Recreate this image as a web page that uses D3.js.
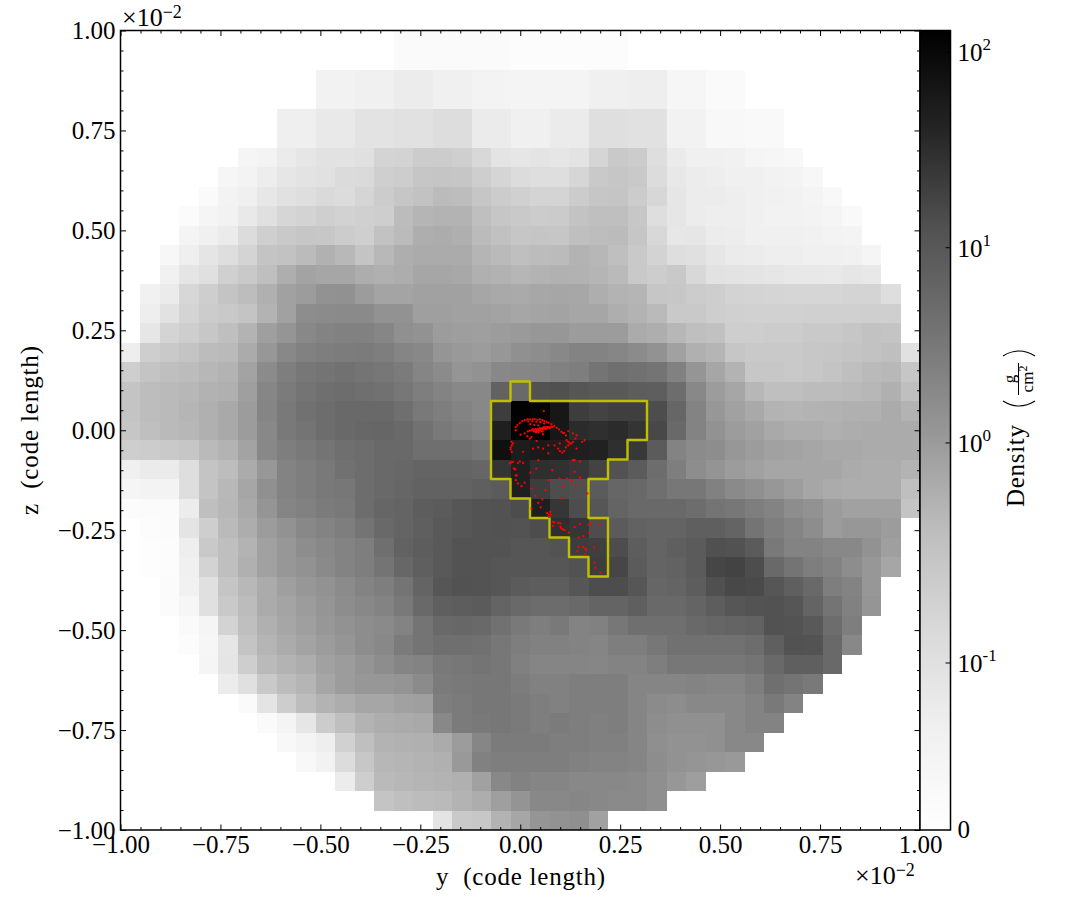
<!DOCTYPE html>
<html>
<head>
<meta charset="utf-8">
<script src="https://cdnjs.cloudflare.com/ajax/libs/d3/7.8.5/d3.min.js"></script>
<style>
body { margin: 0; background: #fff; }
text { font-family: "Liberation Serif", serif; fill: #000; }
.tick text { font-family: "Liberation Serif", serif; font-size: 25px; }
</style>
</head>
<body>
<svg id="chart" width="1085" height="920"></svg>
<script>
// density per cell, row 0 is the top row, each row begins at column rowStart[row]
const rowStart = [14,14,10,10,8,8,6,5,4,3,3,2,2,1,1,1,0,0,0,0,0,0,0,0,0,1,1,1,2,2,3,3,4,5,6,7,8,9,11,13,16];
const row00 = [.02,.02,.02,.02,.02,.02,.012,.012,.012,.012,.012,.012];
const row01 = [.02,.02,.02,.02,.02,.02,.012,.012,.012,.012,.012,.012];
const row02 = [.052,.052,.06,.06,.07,.07,.06,.06,.048,.048,.045,.045,.045,.045,.06,.06,.065,.065,.035,.035,.02,.02];
const row03 = [.052,.052,.06,.06,.07,.07,.06,.06,.048,.048,.045,.045,.045,.045,.06,.06,.065,.065,.035,.035,.02,.02];
const row04 = [.063,.063,.078,.078,.094,.094,.099,.099,.11,.11,.073,.073,.06,.06,.073,.073,.104,.104,.099,.099,.052,.052,.028,.028,.022,.022];
const row05 = [.063,.063,.078,.078,.094,.094,.099,.099,.11,.11,.073,.073,.06,.06,.073,.073,.104,.104,.099,.099,.052,.052,.028,.028,.022,.022];
const row06 = [.04,.048,.073,.086,.096,.096,.102,.133,.143,.193,.193,.17,.121,.091,.086,.091,.086,.094,.13,.218,.193,.107,.073,.06,.06,.056,.04,.035,.028];
const row07 = [.035,.048,.068,.086,.094,.099,.114,.117,.17,.185,.248,.258,.248,.177,.13,.112,.107,.107,.127,.218,.248,.218,.112,.08,.07,.065,.06,.06,.052,.048,.03];
const row08 = [.02,.048,.06,.083,.099,.107,.117,.112,.13,.193,.248,.295,.38,.355,.248,.193,.163,.138,.138,.193,.248,.258,.193,.124,.086,.07,.07,.065,.06,.056,.052,.045,.028];
const row09 = [.015,.04,.052,.078,.102,.127,.143,.17,.15,.163,.177,.365,.455,.485,.485,.333,.248,.218,.193,.2,.28,.333,.333,.238,.107,.086,.07,.065,.065,.06,.052,.052,.048,.04,.022];
const row10 = [.045,.06,.073,.112,.17,.218,.248,.238,.193,.17,.295,.38,.565,.6,.545,.38,.305,.248,.258,.248,.333,.355,.38,.248,.121,.083,.086,.07,.068,.06,.06,.06,.056,.048,.045];
const row11 = [.03,.063,.089,.107,.138,.27,.295,.38,.51,.415,.27,.415,.565,.62,.62,.62,.455,.39,.333,.365,.38,.485,.43,.333,.218,.143,.107,.102,.086,.073,.07,.065,.065,.06,.06,.056,.04];
const row12 = [.056,.089,.102,.163,.218,.333,.565,.78,.716,.716,.585,.527,.585,.716,.716,.68,.527,.5,.44,.485,.51,.5,.455,.39,.218,.185,.218,.121,.096,.094,.091,.086,.08,.08,.078,.086,.08];
const row13 = [.056,.073,.124,.177,.27,.355,.527,.83,.97,1.33,1.38,.97,.76,.76,.83,.83,.83,.716,.66,.64,.7,.716,.7,.565,.485,.455,.248,.238,.193,.177,.143,.133,.13,.127,.127,.127,.133,.133,.107];
const row14 = [.065,.096,.133,.193,.218,.27,.485,.83,1.58,1.7,1.76,1.76,1.33,1.33,.885,.885,.83,.83,.78,.716,.76,.78,.716,.716,.565,.485,.39,.218,.218,.177,.163,.157,.157,.157,.163,.163,.163,.17,.17];
const row15 = [.086,.133,.177,.238,.333,.485,.885,1.2,1.88,2.2,2.35,2.35,2,1.43,1.33,.97,.91,.885,.97,1.03,1.13,1.13,.97,.97,.97,.62,.565,.43,.333,.305,.177,.177,.193,.193,.218,.218,.248,.295,.27];
const row16 = [.065,.177,.218,.27,.365,.39,.62,1.13,1.88,2.35,2.6,2.8,2.9,2.6,2.07,1.88,1.2,1.06,.97,1.13,1.43,1.58,1.88,2.2,2.2,2,1.7,1.33,.83,.527,.455,.248,.218,.218,.218,.238,.248,.27,.295,.333,.099];
const row17 = [.177,.27,.333,.365,.43,.485,.78,1.7,2.6,3.35,3.7,4.1,3.7,3.35,2.9,2.07,1.7,1.2,1.33,1.88,2,2.07,2.35,2.6,3.7,4.4,4.1,3.7,2.35,1.2,.716,.485,.238,.238,.218,.238,.27,.333,.39,.415,.248];
const row18 = [.27,.355,.39,.43,.5,.527,.885,2,2.9,3.7,4.4,4.75,4.4,4.1,3.35,2.6,2.2,1.88,1.88,6.85,5.3,12.4,13,10.8,9.7,9.7,8.4,8.1,4.75,1.88,.97,.716,.43,.333,.333,.365,.365,.39,.43,.527,.333];
const row19 = [.27,.355,.39,.455,.527,.66,.97,2.07,3.1,4.1,4.75,5.3,5.3,5.3,4.4,3.1,2.6,2.2,1.88,21,120,110,62,21,18.3,20,20,14,5.95,2.2,1.13,.83,.66,.485,.455,.485,.5,.527,.527,.62,.485];
const row20 = [.248,.333,.39,.43,.527,.66,.97,1.88,3.1,3.7,4.75,5.3,5.7,5.95,5.3,4.1,3.1,2.6,2.2,48,120,120,62,34,31,34,27,16,5.3,2.2,1.33,.97,.83,.66,.585,.585,.527,.585,.62,.62,.62];
const row21 = [.177,.193,.218,.248,.39,.485,.78,1.88,2.6,3.1,3.7,4.4,4.75,5.3,5.3,4.4,4.4,4.4,3.7,78,51,57,51,48,45,31,24,9,2.2,1.7,1.58,1.13,.97,.83,.78,.716,.66,.66,.62,.62,.62];
const row22 = [.06,.073,.073,.107,.27,.355,.62,1.13,2.2,2.6,3.1,4.1,4.75,5.3,5.7,6.4,6.4,6.4,5.95,27,48,31,29,25.6,18.3,12.4,9,4.75,2.6,1.58,1.24,.97,.83,.716,.716,.716,.716,.62,.585,.585,.485];
const row23 = [.04,.048,.048,.107,.27,.415,.716,1.43,2.2,2.6,3.1,3.35,4.75,5.3,5.95,6.85,6.85,6.85,7.6,9,48,21,14,13,9,5.95,5.3,4.4,3.35,3.35,2.35,1.76,1.43,1.13,.91,.716,.62,.585,.585,.585,.333];
const row24 = [.012,.015,.015,.07,.333,.43,.66,1.2,2.07,2.35,2.9,3.1,4.75,5.95,6.4,8.4,9,10.8,11.8,12.4,14,48,25.6,14,10.8,6.4,5.3,5.3,5.3,4.75,3.7,3.35,2.6,2.2,1.58,1.33,.97,.83,.83,.83,.27];
const row25 = [.012,.015,.091,.177,.39,.585,.97,1.33,1.88,2.2,2.6,3.7,5.3,6.4,7.6,9.7,10.8,11.8,12.4,11.8,14,31,25.6,14,9,6.85,6.4,6.4,7.6,7.6,6.4,3.7,2.6,2.07,1.58,.97,1.13,1.13,.97];
const row26 = [.008,.012,.065,.218,.333,.485,.83,1.13,1.58,1.88,2.2,2.6,4.4,6.85,8.4,9.7,11.8,11.8,11.8,10.8,10.8,11.8,21,20,14,8.4,6.4,7.6,9,13,12.4,9,3.1,2.2,2.2,1.88,1.88,1.33,.885];
const row27 = [.008,.012,.06,.143,.333,.527,.83,1.13,1.33,1.76,2.2,2.6,3.7,5.7,7.6,9.7,11.8,11.8,10.8,10.8,10.8,10.8,12.4,21,17,9,6.4,6.85,9,17,18.3,14,5.3,3.7,2.6,2.2,1.58,1.13,.716];
const row28 = [.015,.056,.102,.258,.415,.62,.885,1.13,1.33,1.7,2.2,2.6,3.7,6.4,10.8,12.4,11.8,10.8,9,8.4,8.4,10.8,14,14,10.8,5.95,6.4,8.4,13,16,15.2,10.8,7.6,5.3,2.6,2.2,1.13];
const row29 = [.015,.035,.102,.218,.365,.62,.76,.97,1.2,1.58,1.88,2.2,3.1,5.3,7.6,8.4,9,6.4,5.3,4.9,4.9,5.3,6.4,6.4,7.6,5.3,5.3,6.4,8.4,10.8,11.8,12.4,10.8,6.4,3.7,2.35,1.2];
const row30 = [.02,.04,.143,.333,.527,.716,.885,1.13,1.33,1.58,1.76,2.2,3.7,5.3,5.7,5.3,4.1,3.1,2.6,3.1,2.2,2.35,3.35,4.4,4.4,4.4,5.3,5.95,6.4,6.85,12.4,11.8,9.7,4.75,2.6];
const row31 = [.012,.035,.086,.27,.455,.62,.78,.97,1.2,1.58,1.88,2.9,3.7,4.4,4.4,4.1,3.35,2.6,2.35,2.35,2.2,2.07,2.6,2.6,3.35,4.1,4.1,4.1,4.1,4.75,7.6,12.4,11.8,5.3,1.88];
const row32 = [.04,.089,.177,.39,.485,.585,.83,.97,1.24,1.58,2.07,2.2,3.1,3.35,3.7,3.35,2.43,2.07,2.07,2.07,2,2.2,2.2,2.6,3.35,3.35,3.35,3.35,3.7,5.3,7.6,7.6,5.3];
const row33 = [.07,.102,.218,.365,.455,.716,.97,1.13,1.13,1.24,1.7,2.9,3.1,3.35,3.35,2.8,2.35,2.35,2.6,2.6,2.6,2.07,2.07,2.07,2.2,2.07,2.07,2.6,4.4,3.7,3.1];
const row34 = [.02,.091,.185,.355,.485,.585,.716,.716,.83,.885,2.6,2.9,3.35,3.35,3,2.6,2.35,2.6,2.6,2.6,2.07,1.7,1.58,1.88,1.88,1.88,2.2,3.1,2.2];
const row35 = [.02,.045,.086,.193,.333,.485,.585,.62,.66,1.88,2.9,3.1,3.35,3,2.6,2.9,2.6,2.43,2.6,2.07,1.58,1.43,1.43,1.43,1.88,2.2,2.2];
const row36 = [.028,.045,.065,.157,.333,.485,.51,.527,.62,.97,2,2.9,2.9,2.9,2.6,2.6,2.43,2.43,2.07,1.48,1.33,1.33,1.43,1.88,1.88];
const row37 = [.028,.052,.112,.238,.43,.455,.485,.527,1.06,2.35,2.6,2.6,2.6,2.6,2.35,2.2,2.2,2.07,1.58,1.33,1.2,1.13,1.06];
const row38 = [.07,.177,.39,.43,.455,.485,.527,.83,1.88,2.3,2.07,2.07,1.88,1.88,1.88,1.76,1.48,1.13,.91];
const row39 = [.27,.333,.365,.39,.485,.585,.885,1.24,1.88,1.88,2,1.88,1.76,1.76,1.48];
const row40 = [.091,.218,.238,.485,.716,1.2,1.33,1.48,.83];
const rows = [row00,row01,row02,row03,row04,row05,row06,row07,row08,row09,row10,row11,row12,row13,row14,row15,row16,row17,row18,row19,row20,row21,row22,row23,row24,row25,row26,row27,row28,row29,row30,row31,row32,row33,row34,row35,row36,row37,row38,row39,row40];

// yellow outline, walks along cell edges
const contourCols = [20,21,21,27,27,26,26,25,25,24,24,25,25,24,24,23,23,22,22,21,21,20,20,19,19,20,20];
const contourRows = [18,18,19,19,21,21,22,22,23,23,25,25,28,28,27,27,26,26,25,25,24,24,23,23,19,19,18];

// particles, in units of 1e-2
const particleY = [-.011,-.007,-.001,.005,.011,.018,.024,.031,.036,.043,.049,.055,.06,.066,.071,.078,.085,.091,.097,.103,.11,
  .019,.024,.029,.031,.034,.036,.039,.041,.041,.044,.046,.049,.049,.051,.054,.054,.056,.059,.059,.061,.064,.064,.066,.069,.071,.074,.076,.079,.081,.039,.046,.056,
  .02,.03,.04,.05,.06,.045,.035,.025,
  .095,.099,.105,.11,.114,.12,.124,.128,.132,.138,.141,.132,.12,.114,.116,.12,
  -.022,-.021,-.024,-.021,-.024,-.018,.007,.032,.045,.057,.07,.07,.086,.099,.141,.161,.155,.136,.132,.024,.041,.011,.001,-.011,.059,.057,.028,.018,.107,
  -.021,-.016,-.026,-.006,.045,
  -.024,-.018,-.015,-.012,-.011,-.009,-.011,-.006,.003,.011,.007,-.001,.04,.025,.028,.038,.063,.055,.045,.028,.051,.067,.071,.075,.076,.072,.082,.086,.082,.095,.1,.101,.103,.107,.111,.121,.136,.15,.171,.176,.197,.172,.158,.146,.146,.157,.163,.165,.143,.161,.185,.185,.188,.201,.08,.071,.099,.117,.136,.149,.151,.128,.105,.139,.132,.149,.168,.103];
const particleZ = [.008,.013,.018,.023,.025,.027,.027,.027,.028,.026,.027,.025,.023,.021,.019,.015,.011,.006,.002,-.004,-.007,
  -.003,-.001,0,.003,-.003,0,.003,0,-.003,.003,0,.005,0,.003,.005,-.003,.003,.008,.003,.005,.008,.003,.005,.008,.008,.005,.008,.008,.008,-.005,-.005,-.003,
  .022,.022,.021,.02,.017,.012,.013,.015,
  -.046,-.052,-.056,-.052,-.043,-.038,-.033,-.033,-.029,-.021,-.013,-.008,-.002,-.013,-.025,-.029,
  -.029,-.038,-.043,-.054,-.048,-.033,-.054,-.046,-.043,-.046,-.038,-.058,-.038,-.033,-.046,-.025,-.029,-.075,-.075,-.021,-.027,-.008,-.011,0,.048,-.01,-.017,-.015,-.007,
  -.079,-.096,-.083,-.082,-.075,
  -.082,-.079,-.096,-.098,-.113,-.113,-.125,-.133,-.14,-.131,-.082,-.078,-.096,-.106,-.146,-.164,-.15,-.173,-.182,-.196,-.193,-.207,-.211,-.204,-.211,-.217,-.229,-.231,-.239,-.232,-.233,-.242,-.246,-.248,-.25,-.256,-.242,-.235,-.236,-.233,-.236,-.256,-.265,-.268,-.292,-.292,-.296,-.3,-.303,-.31,-.293,-.331,-.344,-.356,-.1,-.125,-.121,-.121,-.104,-.118,-.123,-.127,-.139,-.138,-.075,-.078,-.158,-.171];

const majorTicks = [-1,-.75,-.5,-.25,0,.25,.5,.75,1];
const minorTicks = d3.range(-20,21).filter(d => d % 5 != 0).map(d => d / 20);
const greySteps = ["#ffffff","#f0f0f0","#d9d9d9","#bdbdbd","#969696","#737373","#525252","#252525","#000000"];
const densityTicks = [0,.1,1,10,100];
const densityPowers = {0.1:"-1",1:"0",10:"1",100:"2"};
const linThresh = .127, densityMax = 129.6;
const nCells = 41;

const left = 120.5, right = 920, top_ = 30.5, bottom = 830;
const cbarRight = 950.5;

const svg = d3.select("#chart");

const xScale = d3.scaleLinear().domain([-1,1]).range([left,right]);
const yScale = d3.scaleLinear().domain([-1,1]).range([bottom,top_]);
const colEdge = d3.scaleLinear().domain([0,nCells]).range([-1,1]);
const rowEdge = d3.scaleLinear().domain([0,nCells]).range([1,-1]);

// colorbar position: linear below the threshold, log above it
const linPart = d3.scaleLinear().domain([0,linThresh]).range([bottom,617.9]);
const logPart = d3.scaleLog().domain([linThresh,densityMax]).range([617.9,top_]);
function densityPos(v) { return v < linThresh ? linPart(v) : logPart(v); }
const posToColor = d3.scaleLinear().domain(greySteps.map((c,i) => i / 8)).range(greySteps);
function densityColor(v) { return posToColor((bottom - densityPos(v)) / (bottom - top_)); }

const cells = rows.flatMap((r,i) => r.map((v,j) => ({row:i, col:rowStart[i] + j, value:v})));

svg.append("g")
   .attr("shape-rendering","crispEdges")
   .selectAll("rect")
   .data(cells)
   .enter()
   .append("rect")
   .attr("x", d => xScale(colEdge(d.col)))
   .attr("y", d => yScale(rowEdge(d.row)))
   .attr("width", d => xScale(colEdge(d.col + 1)) - xScale(colEdge(d.col)))
   .attr("height", d => yScale(rowEdge(d.row + 1)) - yScale(rowEdge(d.row)))
   .style("fill", d => densityColor(d.value));

const contourLine = d3.line()
   .x(d => xScale(colEdge(d[0])))
   .y(d => yScale(rowEdge(d[1])));

svg.append("path")
   .attr("d", contourLine(d3.zip(contourCols,contourRows)) + "Z")
   .attr("fill","none")
   .attr("stroke","#bfbf00")
   .attr("stroke-width",2.4)
   .attr("stroke-linejoin","round");

svg.append("g").selectAll("circle")
   .data(d3.zip(particleY,particleZ))
   .enter()
   .append("circle")
   .attr("cx", d => xScale(d[0]))
   .attr("cy", d => yScale(d[1]))
   .attr("r", 1.15)
   .style("fill","#ff0000");

// axes, ticks point inwards on all four sides
function addAxis(axisFn,scale,transform,showLabels) {
	const major = axisFn(scale).tickValues(majorTicks).tickSize(-5.5).tickPadding(showLabels ? 5 : 0)
	                           .tickFormat(showLabels ? d3.format(".2f") : "");
	const minor = axisFn(scale).tickValues(minorTicks).tickSize(-3).tickFormat("");
	for (const ax of [minor,major]) {
		const g = svg.append("g").attr("transform",transform).call(ax);
		g.select(".domain").remove();
		g.selectAll(".tick line").attr("stroke","#000").attr("stroke-width",1);
	}
}
addAxis(d3.axisBottom,xScale,`translate(0,${bottom})`,true);
addAxis(d3.axisTop,xScale,`translate(0,${top_})`,false);
addAxis(d3.axisLeft,yScale,`translate(${left},0)`,true);
addAxis(d3.axisRight,yScale,`translate(${right},0)`,false);

svg.append("rect")
   .attr("x",left).attr("y",top_)
   .attr("width",right - left).attr("height",bottom - top_)
   .attr("fill","none").attr("stroke","#000").attr("stroke-width",1.5);

// colorbar
const grad = svg.append("defs").append("linearGradient")
   .attr("id","cbar").attr("x1",0).attr("x2",0).attr("y1",1).attr("y2",0);
grad.selectAll("stop").data(greySteps).enter().append("stop")
   .attr("offset",(d,i) => i / 8)
   .attr("stop-color",d => d);

svg.append("rect")
   .attr("x",right).attr("y",top_)
   .attr("width",cbarRight - right).attr("height",bottom - top_)
   .attr("fill","url(#cbar)").attr("stroke","#000").attr("stroke-width",1.5);

const cbarTicks = svg.append("g").selectAll("g")
   .data(densityTicks)
   .enter()
   .append("g")
   .attr("transform", d => `translate(${cbarRight},${densityPos(d)})`);
cbarTicks.filter(d => d > 0).append("line")
   .attr("x1",-5).attr("x2",0).attr("stroke","#000").attr("stroke-width",1);
const cbarText = cbarTicks.append("text")
   .attr("x",7)
   .attr("y",d => d > 0 ? 9 : 8)
   .style("font-size","25px");
cbarText.filter(d => d == 0).text("0");
cbarText.filter(d => d > 0).append("tspan").text("10");
cbarText.filter(d => d > 0).append("tspan")
   .attr("dy",-11)
   .style("font-size","17px")
   .text(d => densityPowers[d]);

// offset text
function offsetText(x,y) {
	const t = svg.append("text").attr("x",x).attr("y",y).style("font-size","26px");
	t.append("tspan").text("\u00d710");
	t.append("tspan").attr("dy",-8).style("font-size","18px").text("\u22122");
}
offsetText(122,26);
offsetText(855,884);

// axis labels
svg.append("text")
   .attr("x",520.5).attr("y",885)
   .attr("text-anchor","middle")
   .attr("xml:space","preserve")
   .attr("textLength",169)
   .style("font-size","25px")
   .text("y  (code length)");

svg.append("text")
   .attr("transform","translate(38,430.5) rotate(-90)")
   .attr("text-anchor","middle")
   .attr("xml:space","preserve")
   .attr("textLength",169)
   .style("font-size","25px")
   .text("z  (code length)");

const cbarLabel = svg.append("g").attr("transform","translate(1024,0) rotate(-90)");
cbarLabel.append("text").attr("x",-507).attr("y",0).attr("textLength",82).style("font-size","25px").text("Density");
cbarLabel.append("path").attr("d","M-401,-21Q-411,-5 -401,11").attr("fill","none").attr("stroke","#000").attr("stroke-width",1.1);
cbarLabel.append("path").attr("d","M-356,-21Q-346,-5 -356,11").attr("fill","none").attr("stroke","#000").attr("stroke-width",1.1);
cbarLabel.append("text").attr("x",-379).attr("y",-9).attr("text-anchor","middle").style("font-size","17px").text("g");
cbarLabel.append("line").attr("x1",-395).attr("x2",-363).attr("y1",-5.5).attr("y2",-5.5).attr("stroke","#000").attr("stroke-width",1);
const cm2 = cbarLabel.append("text").attr("x",-379).attr("y",9).attr("text-anchor","middle").style("font-size","17px");
cm2.append("tspan").text("cm");
cm2.append("tspan").attr("dy",-6).style("font-size","12px").text("2");
</script>
</body>
</html>
